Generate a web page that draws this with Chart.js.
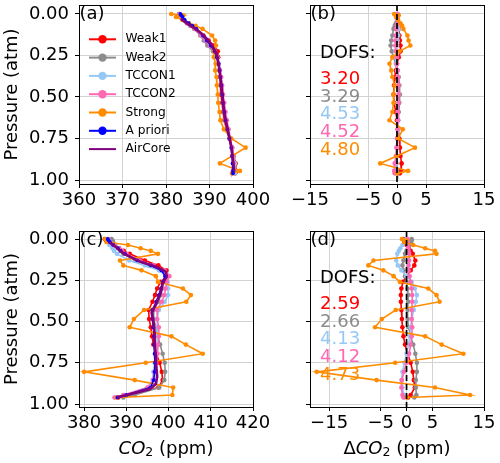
<!DOCTYPE html>
<html>
<head>
<meta charset="utf-8">
<script src="https://cdn.jsdelivr.net/npm/chart.js@4.4.0/dist/chart.umd.min.js"></script>
<style>
  html, body { margin: 0; padding: 0; background: #fff; }
  #wrap { position: relative; width: 500px; height: 463px; }
  #wrap canvas { position: absolute; left: 0; top: 0; }
</style>
</head>
<body>
<div id="wrap">
  <canvas id="panel-a" width="500" height="463"></canvas>
  <canvas id="panel-b" width="500" height="463"></canvas>
  <canvas id="panel-c" width="500" height="463"></canvas>
  <canvas id="panel-d" width="500" height="463"></canvas>
</div>
<script>
// --- DATA ---
// pressure levels of the retrievals (atm)
const pLevels = [0.0, 0.008, 0.018, 0.036, 0.056, 0.072, 0.09, 0.13, 0.16, 0.19, 0.225, 0.26, 0.30, 0.34,
                 0.38, 0.43, 0.485, 0.535, 0.59, 0.64, 0.695, 0.75, 0.805, 0.855, 0.90, 0.945, 0.96];
const pTicks = [0, 0.25, 0.5, 0.75, 1];

const seriesNames = ['Weak1', 'Weak2', 'TCCON1', 'TCCON2', 'Strong', 'A priori', 'AirCore'];
const seriesColors = ['#ff0000', '#8c8c8c', '#96c8f5', '#ff69b4', '#ff8c00', '#0000ff', '#800080'];

// panel (a): CO2 (ppm)
const weak1A   = [383.0, 383.2, 383.5, 384.0, 385.0, 385.9, 386.9, 388.6, 389.8, 391.0, 391.9, 392.0, 392.0, 392.3, 392.4, 392.5, 392.6, 392.9, 393.1, 393.4, 393.9, 394.6, 395.2, 395.6, 396.0, 396.1, 395.9];
const weak2A   = [383.0, 383.2, 383.5, 384.0, 384.8, 385.6, 386.5, 387.9, 388.7, 389.5, 390.8, 391.6, 392.0, 392.3, 392.6, 392.8, 393.0, 393.2, 393.3, 393.6, 394.0, 394.6, 395.2, 395.5, 395.8, 395.9, 395.8];
const tccon1A  = [383.1, 383.3, 383.6, 384.1, 385.1, 386.0, 386.9, 388.3, 389.3, 390.2, 391.2, 391.8, 392.1, 392.4, 392.6, 392.8, 393.0, 393.2, 393.5, 393.8, 394.2, 394.7, 395.2, 395.5, 395.8, 395.9, 395.8];
const tccon2A  = [383.1, 383.3, 383.6, 384.1, 385.0, 385.8, 386.7, 388.1, 389.1, 390.0, 391.0, 391.7, 392.0, 392.4, 392.7, 392.9, 393.1, 393.4, 393.7, 394.0, 394.4, 394.8, 395.2, 395.4, 395.5, 395.4, 395.2];
const strongA  = [381.2, 384.0, 382.3, 383.8, 385.3, 386.8, 388.4, 390.6, 391.3, 391.5, 391.0, 391.0, 391.4, 391.3, 391.6, 391.7, 391.9, 392.0, 392.3, 392.5, 393.3, 395.0, 398.3, 395.2, 392.4, 397.0, 395.2];
const aprioriA = [383.3, 383.5, 383.8, 384.3, 385.2, 386.1, 387.0, 388.5, 389.4, 390.3, 391.2, 391.7, 392.1, 392.3, 392.5, 392.7, 392.9, 393.1, 393.4, 393.7, 394.1, 394.6, 395.0, 395.2, 395.3, 395.4, 395.4];
const pAirCoreA = [0.03, 0.06, 0.09, 0.12, 0.15, 0.19, 0.24, 0.30, 0.40, 0.50, 0.60, 0.70, 0.80, 0.88, 0.95];
const airCoreA  = [383.4, 385.0, 386.8, 388.3, 389.4, 390.6, 391.6, 392.1, 392.6, 393.0, 393.4, 394.2, 395.0, 395.4, 395.7];

// panel (b): delta CO2 (ppm)
const weak1B  = [0.0, 0.0, 0.0, 0.1, 0.2, 0.3, 0.3, 0.4, 0.5, 0.6, 0.6, 0.3, 0.0, -0.2, -0.3, -0.5, -0.6, -0.5, -0.2, 0.0, 0.2, 0.4, 0.5, 0.6, 0.8, 0.7, 0.5];
const weak2B  = [0.0, 0.0, 0.0, 0.0, -0.2, -0.4, -0.6, -0.8, -1.0, -1.1, -0.9, -0.6, -0.2, 0.1, 0.3, 0.4, 0.5, 0.4, 0.3, 0.2, 0.1, 0.0, 0.0, -0.1, -0.1, 0.0, 0.1];
const tccon1B = [0.1, 0.1, 0.1, 0.1, 0.2, 0.2, 0.3, 0.2, 0.1, 0.0, -0.2, -0.2, -0.1, 0.0, 0.1, 0.2, 0.2, 0.1, 0.1, 0.2, 0.2, 0.1, 0.0, -0.1, -0.2, -0.2, -0.2];
const tccon2B = [0.1, 0.1, 0.1, 0.1, 0.1, 0.0, -0.1, -0.2, -0.3, -0.3, -0.2, 0.0, 0.0, 0.1, 0.2, 0.3, 0.3, 0.3, 0.2, 0.2, 0.1, 0.0, -0.1, -0.2, -0.4, -0.5, -0.4];
const strongB = [-0.5, 0.3, -0.2, 0.2, 0.6, 0.9, 1.1, 1.8, 2.0, 2.3, 0.4, -0.8, -1.3, -1.0, -0.8, -0.4, -0.6, -0.6, -0.8, -1.3, 1.0, 0.2, 3.1, 0.0, -2.9, 1.9, 0.0];
const dofsB = ['3.20', '3.29', '4.53', '4.52', '4.80'];

// panel (c): CO2 (ppm)
const weak1C   = [384.9, 385.2, 385.7, 386.8, 388.3, 389.4, 390.8, 394.4, 397.6, 399.5, 399.6, 398.1, 397.3, 396.8, 396.2, 395.3, 395.4, 395.8, 396.1, 396.4, 397.1, 397.9, 398.4, 398.6, 397.6, 390.9, 388.1];
const weak2C   = [386.5, 386.7, 386.9, 387.4, 388.2, 388.6, 389.3, 392.1, 395.3, 398.1, 399.3, 398.8, 398.5, 398.2, 397.6, 396.5, 396.5, 397.0, 397.5, 398.0, 398.6, 399.1, 399.2, 399.0, 397.8, 392.0, 389.3];
const tccon1C  = [385.5, 385.5, 385.6, 386.0, 386.7, 387.1, 387.8, 390.7, 394.4, 397.7, 399.6, 399.8, 399.9, 399.9, 399.1, 397.7, 397.3, 397.4, 397.3, 397.1, 396.9, 396.7, 396.4, 396.2, 395.2, 389.6, 387.5];
const tccon2C  = [385.7, 385.9, 386.2, 387.1, 388.2, 389.0, 390.1, 393.2, 396.5, 399.1, 400.2, 399.6, 399.3, 399.0, 398.4, 397.3, 397.3, 397.7, 397.7, 397.5, 397.4, 397.1, 396.7, 396.3, 395.0, 389.3, 387.2];
const strongC  = [385.0, 385.6, 385.3, 390.4, 393.4, 395.8, 397.5, 388.5, 389.3, 393.6, 397.0, 397.5, 403.4, 405.3, 404.2, 394.2, 391.8, 390.8, 400.7, 404.1, 408.1, 394.6, 380.0, 392.0, 401.1, 400.9, 387.8];
const aprioriC = [385.6, 385.8, 386.1, 386.9, 388.0, 388.7, 389.7, 392.6, 395.8, 398.3, 399.2, 398.7, 398.2, 397.7, 397.1, 396.2, 396.2, 396.4, 396.6, 396.6, 396.7, 396.8, 396.7, 396.5, 395.7, 390.0, 387.9];
const pAirCoreC = [0.02, 0.05, 0.087, 0.137, 0.168, 0.198, 0.228, 0.269, 0.329, 0.39, 0.446, 0.5, 0.572, 0.632, 0.713, 0.774, 0.834, 0.879, 0.91, 0.945, 0.96];
const airCoreC  = [386.0, 387.6, 389.3, 393.2, 397.1, 399.3, 399.6, 398.6, 398.1, 397.1, 396.0, 396.4, 396.7, 396.7, 397.0, 397.1, 397.3, 397.0, 395.5, 390.1, 387.8];

// panel (d): delta CO2 (ppm)
const weak1D  = [-0.6, -0.5, -0.3, 0.0, 0.4, 0.8, 1.2, 1.7, 1.5, 0.8, 0.0, -0.7, -1.0, -1.1, -1.1, -1.0, -0.9, -0.8, -0.6, -0.3, 0.2, 0.8, 1.2, 1.4, 1.6, 0.8, 0.3];
const weak2D  = [1.0, 1.0, 0.9, 0.6, 0.3, 0.0, -0.3, -0.6, -0.8, -0.6, -0.3, 0.0, 0.2, 0.3, 0.3, 0.2, 0.2, 0.4, 0.8, 1.3, 1.7, 2.0, 2.0, 1.8, 1.8, 1.9, 1.5];
const tccon1D = [0.0, -0.2, -0.4, -0.8, -1.2, -1.5, -1.8, -2.0, -1.7, -1.0, 0.0, 1.0, 1.6, 2.0, 1.8, 1.4, 1.0, 0.8, 0.6, 0.4, 0.0, -0.4, -0.8, -1.0, -0.8, -0.5, -0.3];
const tccon2D = [0.2, 0.2, 0.2, 0.3, 0.3, 0.4, 0.5, 0.5, 0.4, 0.4, 0.6, 0.8, 1.0, 1.1, 1.1, 1.0, 1.0, 1.1, 1.0, 0.8, 0.5, 0.0, -0.5, -0.9, -1.0, -0.8, -0.6];
const strongD = [-0.9, 0.0, -0.5, 1.3, 3.6, 5.5, 5.8, -6.4, -7.4, -4.5, -2.5, -1.3, 4.2, 5.8, 6.4, -2.1, -4.8, -6.1, 3.6, 6.8, 11.0, -2.2, -17.4, -5.8, 5.5, 12.3, 0.1];
const dofsD = ['2.59', '2.66', '4.13', '4.12', '4.73'];

// axis ticks
const co2TicksA = [360, 370, 380, 390, 400];
const co2TicksC = [380, 390, 400, 410, 420];
const deltaTicks = [-15, -5, 0, 5, 15];
const zeroLine = [0, 0];

// --- STYLE ---
const FONT = '"DejaVu Sans", "Liberation Sans", sans-serif';
const TICK_SIZE = 18;
Chart.defaults.font.family = FONT;
Chart.defaults.color = '#000';

function fmtMinus(v) {
    return v < 0 ? '\u2212' + Math.abs(v) : String(v);
}

// black box around every axes (matplotlib spines)
const framePlugin = {
    id: 'frame',
    afterDraw(chart) {
        const { ctx, chartArea: a } = chart;
        ctx.save();
        ctx.strokeStyle = '#000';
        ctx.lineWidth = 1;
        ctx.strokeRect(Math.round(a.left) + 0.5, Math.round(a.top) + 0.5,
            Math.round(a.right - a.left), Math.round(a.bottom - a.top));
        ctx.restore();
    }
};

// panel letter, DOFS block, legend, x title
function textPlugin(opts) {
    return {
        id: 'texts',
        afterDraw(chart) {
            const { ctx, chartArea: a } = chart;
            ctx.save();
            ctx.textBaseline = 'middle';
            ctx.textAlign = 'left';
            ctx.fillStyle = '#000';
            ctx.font = TICK_SIZE + 'px ' + FONT;
            ctx.fillText(opts.letter, a.left + 0.5, a.top + 9.5);

            if (opts.dofs) {
                ctx.fillText('DOFS:', a.left + 10, a.top + opts.dofsTop);
                opts.dofs.forEach((d, i) => {
                    ctx.fillStyle = seriesColors[i];
                    ctx.fillText(d, a.left + 10, a.top + opts.dofsTop + 26 + i * 17.9);
                });
            }

            if (opts.legend) {
                ctx.font = '12.2px ' + FONT;
                seriesNames.forEach((name, i) => {
                    const y = a.top + 34.3 + i * 18.3;
                    ctx.strokeStyle = seriesColors[i];
                    ctx.lineWidth = 2;
                    ctx.beginPath();
                    ctx.moveTo(a.left + 10, y);
                    ctx.lineTo(a.left + 37, y);
                    ctx.stroke();
                    if (name !== 'AirCore') {
                        ctx.fillStyle = seriesColors[i];
                        ctx.beginPath();
                        ctx.arc(a.left + 23.5, y, 4.2, 0, Math.PI * 2);
                        ctx.fill();
                    }
                    ctx.fillStyle = '#000';
                    ctx.fillText(name, a.left + 46.5, y);
                });
            }

            if (opts.xTitle) {
                const parts = [];
                if (opts.xTitle === 'delta') parts.push({ t: '\u0394', f: TICK_SIZE + 'px ' + FONT, dy: 0 });
                parts.push({ t: 'CO', f: 'italic ' + TICK_SIZE + 'px ' + FONT, dy: 0 });
                parts.push({ t: '2', f: '12.5px ' + FONT, dy: 4 });
                parts.push({ t: ' (ppm)', f: TICK_SIZE + 'px ' + FONT, dy: 0 });
                let total = 0;
                parts.forEach(p => { ctx.font = p.f; p.w = ctx.measureText(p.t).width; total += p.w; });
                let x = (a.left + a.right) / 2 - total / 2;
                const y = a.bottom + 42;
                ctx.fillStyle = '#000';
                parts.forEach(p => { ctx.font = p.f; ctx.fillText(p.t, x, y + p.dy); x += p.w; });
            }
            ctx.restore();
        }
    };
}

// --- BUILD ONE PANEL ---
function makePanel(id, cfg) {
    const datasets = cfg.series.map((s, i) => {
        const isLine = s.name === 'AirCore';
        const isPrior = s.name === 'A priori';
        return {
            label: s.name,
            data: s.vals.map((v, k) => ({ x: v, y: s.pres[k] })),
            borderColor: seriesColors[seriesNames.indexOf(s.name)],
            backgroundColor: seriesColors[seriesNames.indexOf(s.name)],
            borderWidth: isLine ? 2.7 : 1.6,
            pointRadius: isLine ? 0 : (isPrior ? 1.9 : 2.3),
            pointBorderWidth: 0,
            showLine: true,
            order: 20 - i
        };
    });
    if (cfg.zero) {
        datasets.push({
            label: 'zero',
            data: zeroLine.map((v, k) => ({ x: v, y: k === 0 ? cfg.yMin : cfg.yMax })),
            borderColor: '#000',
            borderWidth: 1.7,
            borderDash: [6, 3],
            pointRadius: 0,
            showLine: true,
            order: 0
        });
    }

    return new Chart(document.getElementById(id), {
        type: 'scatter',
        data: { datasets },
        options: {
            responsive: false,
            animation: false,
            devicePixelRatio: 1,
            layout: { padding: cfg.padding },
            plugins: { legend: { display: false }, tooltip: { enabled: false } },
            scales: {
                x: {
                    type: 'linear',
                    position: 'bottom',
                    min: cfg.xMin,
                    max: cfg.xMax,
                    afterBuildTicks: sc => { sc.ticks = cfg.xTicks.map(v => ({ value: v })); },
                    afterFit: sc => { sc.height = 30; sc.paddingLeft = 0; sc.paddingRight = 0; },
                    ticks: { autoSkip: false, maxRotation: 0, padding: 2, color: '#000',
                             font: { size: TICK_SIZE }, callback: v => fmtMinus(v) },
                    grid: { color: '#d3d3d3', lineWidth: 1, tickColor: '#000', tickLength: 4 },
                    border: { display: false }
                },
                y: {
                    type: 'linear',
                    position: 'left',
                    reverse: true,
                    min: cfg.yMin,
                    max: cfg.yMax,
                    afterBuildTicks: sc => { sc.ticks = pTicks.map(v => ({ value: v })); },
                    afterFit: sc => { sc.width = cfg.yWidth; sc.paddingTop = 0; sc.paddingBottom = 0; },
                    ticks: { display: cfg.yLabels, autoSkip: false, padding: 6, color: '#000',
                             font: { size: TICK_SIZE }, callback: v => v.toFixed(2) },
                    grid: { color: '#d3d3d3', lineWidth: 1, tickColor: '#000', tickLength: 4 },
                    border: { display: false },
                    title: { display: cfg.yLabels, text: 'Pressure (atm)', color: '#000',
                             font: { size: TICK_SIZE }, padding: { top: 2, bottom: 0 } }
                }
            }
        },
        plugins: [framePlugin, textPlugin(cfg.texts)]
    });
}

// --- PANELS ---
const topY = { yMin: -0.054, yMax: 1.024 };
const botY = { yMin: -0.0485, yMax: 1.018 };

makePanel('panel-a', {
    series: [
        { name: 'Weak1', vals: weak1A, pres: pLevels },
        { name: 'Weak2', vals: weak2A, pres: pLevels },
        { name: 'TCCON1', vals: tccon1A, pres: pLevels },
        { name: 'TCCON2', vals: tccon2A, pres: pLevels },
        { name: 'Strong', vals: strongA, pres: pLevels },
        { name: 'A priori', vals: aprioriA, pres: pLevels },
        { name: 'AirCore', vals: airCoreA, pres: pAirCoreA }
    ],
    xMin: 360, xMax: 400, xTicks: co2TicksA,
    ...topY, yWidth: 79, yLabels: true,
    padding: { left: 0, right: 247, top: 5, bottom: 249 },
    texts: { letter: '(a)', legend: true }
});

makePanel('panel-b', {
    series: [
        { name: 'Weak1', vals: weak1B, pres: pLevels },
        { name: 'Weak2', vals: weak2B, pres: pLevels },
        { name: 'TCCON1', vals: tccon1B, pres: pLevels },
        { name: 'TCCON2', vals: tccon2B, pres: pLevels },
        { name: 'Strong', vals: strongB, pres: pLevels }
    ],
    zero: true,
    xMin: -15, xMax: 15, xTicks: deltaTicks,
    ...topY, yWidth: 10, yLabels: false,
    padding: { left: 300, right: 16, top: 5, bottom: 249 },
    texts: { letter: '(b)', dofs: dofsB, dofsTop: 48 }
});

makePanel('panel-c', {
    series: [
        { name: 'Weak1', vals: weak1C, pres: pLevels },
        { name: 'Weak2', vals: weak2C, pres: pLevels },
        { name: 'TCCON1', vals: tccon1C, pres: pLevels },
        { name: 'TCCON2', vals: tccon2C, pres: pLevels },
        { name: 'Strong', vals: strongC, pres: pLevels },
        { name: 'A priori', vals: aprioriC, pres: pLevels },
        { name: 'AirCore', vals: airCoreC, pres: pAirCoreC }
    ],
    xMin: 378.8, xMax: 420, xTicks: co2TicksC,
    ...botY, yWidth: 79, yLabels: true,
    padding: { left: 0, right: 247, top: 231, bottom: 26 },
    texts: { letter: '(c)', xTitle: 'co2' }
});

makePanel('panel-d', {
    series: [
        { name: 'Weak1', vals: weak1D, pres: pLevels },
        { name: 'Weak2', vals: weak2D, pres: pLevels },
        { name: 'TCCON1', vals: tccon1D, pres: pLevels },
        { name: 'TCCON2', vals: tccon2D, pres: pLevels },
        { name: 'Strong', vals: strongD, pres: pLevels }
    ],
    zero: true,
    xMin: -18.7, xMax: 15, xTicks: deltaTicks,
    ...botY, yWidth: 10, yLabels: false,
    padding: { left: 300, right: 16, top: 231, bottom: 26 },
    texts: { letter: '(d)', dofs: dofsD, dofsTop: 47, xTitle: 'delta' }
});
</script>
</body>
</html>
